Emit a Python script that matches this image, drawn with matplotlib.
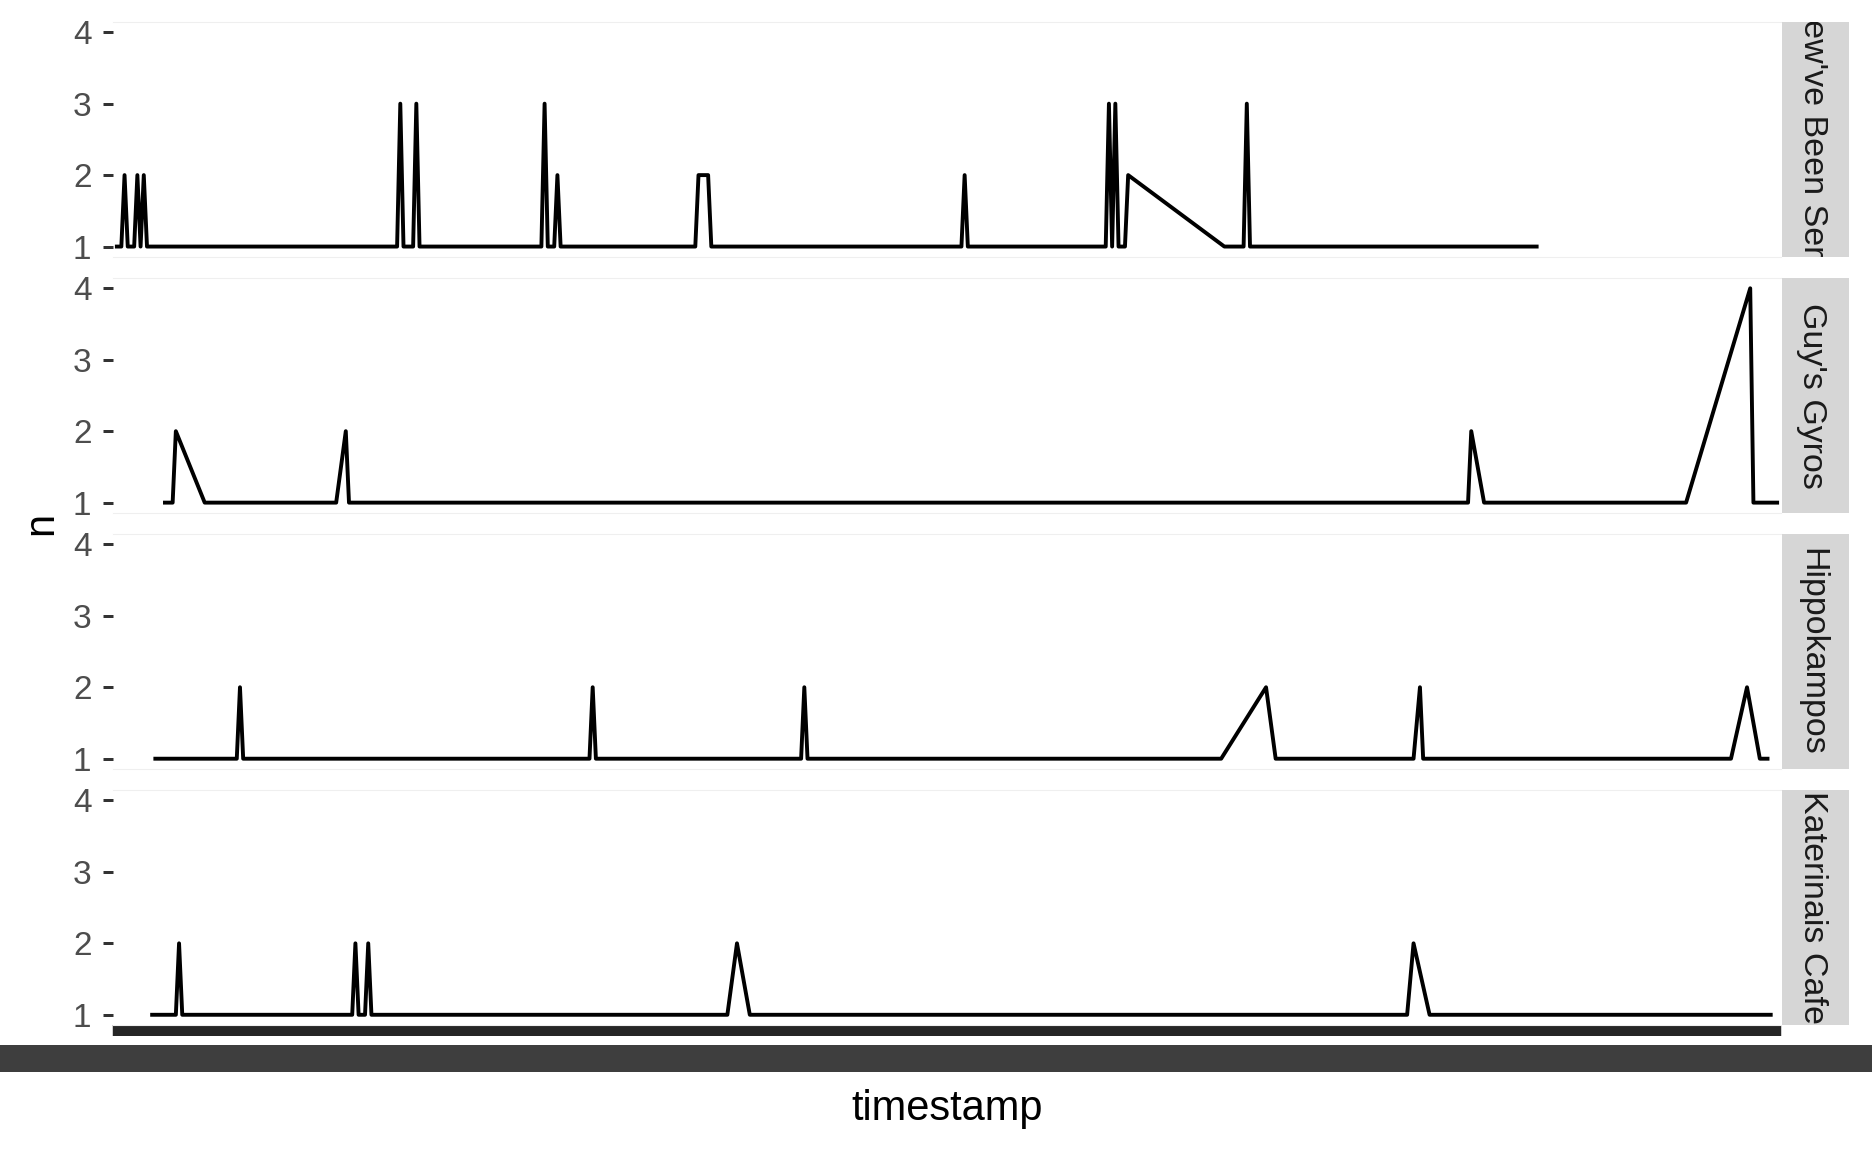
import matplotlib
matplotlib.use("Agg")
import matplotlib.pyplot as plt
import pandas as pd

plt.rcParams['font.family'] = ['Liberation Sans', 'DejaVu Sans']

# one facet per restaurant, x = position of the timestamp level, n = count
facets = ["Whew've Been Served", "Guy's Gyros", "Hippokampos", "Katerinais Cafe"]

yew_x = [1, 3, 4, 5, 7, 8, 9, 10, 11, 89, 90, 91, 94, 95, 96, 134, 135, 136,
         138, 139, 140, 182, 183, 186, 187, 265, 266, 267, 310, 311, 312, 313,
         314, 316, 317, 347, 353, 354, 355, 445]
yew_n = [1, 1, 2, 1, 1, 2, 1, 2, 1, 1, 3, 1, 1, 3, 1, 1, 3, 1,
         1, 2, 1, 1, 2, 2, 1, 1, 2, 1, 1, 3, 1, 3,
         1, 1, 2, 1, 1, 3, 1, 1]

guy_x = [16, 19, 20, 29, 70, 73, 74, 423, 424, 428, 491, 511, 512, 520]
guy_n = [1, 1, 2, 1, 1, 2, 1, 1, 2, 1, 1, 4, 1, 1]

hip_x = [13, 39, 40, 41, 149, 150, 151, 215, 216, 217, 346, 360, 363,
         406, 408, 409, 505, 510, 514, 517]
hip_n = [1, 1, 2, 1, 1, 2, 1, 1, 2, 1, 1, 2, 1,
         1, 2, 1, 1, 2, 1, 1]

kat_x = [12, 20, 21, 22, 75, 76, 77, 79, 80, 81, 192, 195, 199, 404, 406, 411, 518]
kat_n = [1, 1, 2, 1, 1, 2, 1, 1, 2, 1, 1, 2, 1, 1, 2, 1, 1]

series = [(yew_x, yew_n), (guy_x, guy_n), (hip_x, hip_n), (kat_x, kat_n)]

# discrete timestamp axis: one level per observed time (labels illegible in
# the original, they overplot into a solid band)
n_levels = 520
timestamps = pd.date_range("2016-01-04 08:00", periods=n_levels, freq="37min").strftime("%Y-%m-%d %H:%M:%S")
levels = list(range(1, n_levels + 1))

W, H = 1872, 1152
fig = plt.figure(figsize=(W / 100, H / 100), dpi=100)
gs = fig.add_gridspec(4, 1, left=113 / W, right=1781 / W,
                      top=1 - 21.5 / H, bottom=1 - 1025.5 / H,
                      hspace=20.3 / 235.75)

for i, (name, (xs, ns)) in enumerate(zip(facets, series)):
    ax = fig.add_subplot(gs[i])
    ax.plot(xs, ns, color='black', lw=2.8, solid_joinstyle='round',
            solid_capstyle='butt')
    ax.set_xlim(0.4, n_levels + 0.6)
    ax.set_ylim(0.85, 4.15)
    ax.set_yticks([1, 2, 3, 4])
    ax.tick_params(axis='y', length=7.56, width=2.16, color='#333333',
                   pad=8, labelsize=24, labelcolor='#4D4D4D')
    for side in ('left', 'right'):
        ax.spines[side].set_visible(False)
    for side in ('top', 'bottom'):
        ax.spines[side].set_color('#EFEFEF')
        ax.spines[side].set_linewidth(0.8)
    if i < 3:
        ax.tick_params(axis='x', bottom=False, labelbottom=False)
    else:
        ax.set_xticks(levels)
        ax.set_xticklabels(timestamps)
        ax.tick_params(axis='x', length=7.56, width=3.2, color='#262626',
                       pad=6, labelsize=27, labelcolor='#3E3E3E')

    pos = ax.get_position()
    strip = fig.add_axes([1782 / W, pos.y0, 67 / W, pos.height])
    strip.set_facecolor('#D6D6D6')
    strip.set_xticks([])
    strip.set_yticks([])
    for s in strip.spines.values():
        s.set_visible(False)
    t = strip.text(0.5, 0.5, name, transform=strip.transAxes, rotation=-90,
                   rotation_mode='anchor', ha='center', va='center_baseline',
                   fontsize=24.5, color='#1A1A1A')
    t.set_clip_box(strip.bbox)
    t.set_clip_on(True)

fig.text(52.5 / W, 1 - 523.5 / H, 'n', rotation=90, rotation_mode='anchor',
         ha='center', va='baseline', fontsize=30, color='black')
fig.text(947 / W, 1 - 1120 / H, 'timestamp', ha='center', va='baseline',
         fontsize=30, color='black')

fig.savefig('out.png', dpi=100)
